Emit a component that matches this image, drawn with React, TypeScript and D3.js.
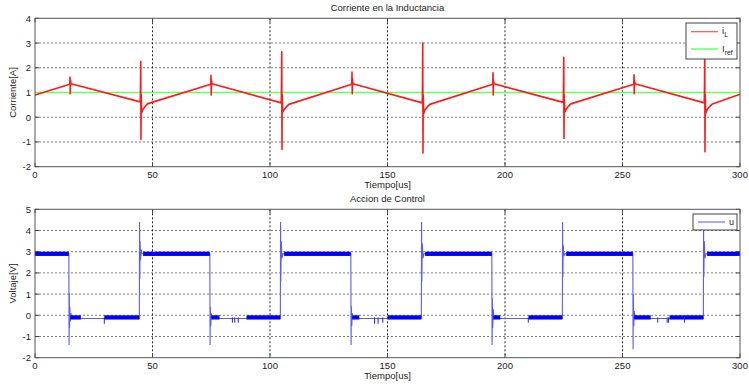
import React from "react";
import * as d3 from "d3";

// ---------- data ----------
const xTicks = [0, 50, 100, 150, 200, 250, 300];
const yTicksTop = [-2, -1, 0, 1, 2, 3, 4];
const yTicksBottom = [-2, -1, 0, 1, 2, 3, 4, 5];

const titleTop = "Corriente en la Inductancia";
const titleBottom = "Accion de Control";
const xLabel = "Tiempo[us]";
const yLabelTop = "Corriente[A]";
const yLabelBottom = "Voltaje[V]";

// inductor current i_L [t(us), A]
const iL: [number, number][] = [
  [0, 0.9],
  [14.8, 1.33], [14.9, 1.62], [15.0, 0.95], [15.1, 1.5], [15.3, 1.35],
  [44.8, 0.62], [44.9, 1.3], [45.0, 2.25], [45.1, -0.9], [45.2, 0.9], [45.4, 0.18], [46, 0.32], [47, 0.45], [48, 0.55],
  [74.8, 1.33], [74.9, 1.7], [75.0, 0.9], [75.1, 1.5], [75.3, 1.35],
  [104.8, 0.58], [104.9, 1.3], [105.0, 2.65], [105.1, -1.3], [105.2, 0.9], [105.4, 0.2], [106, 0.3], [107, 0.42], [108, 0.52],
  [134.8, 1.33], [134.9, 1.83], [135.0, 0.95], [135.1, 1.55], [135.3, 1.35],
  [164.8, 0.58], [164.9, 1.3], [165.0, 3.0], [165.1, -1.45], [165.2, 0.9], [165.4, 0.15], [166, 0.3], [167, 0.42], [168, 0.52],
  [194.8, 1.33], [194.9, 1.8], [195.0, 0.9], [195.1, 1.5], [195.3, 1.35],
  [224.8, 0.6], [224.9, 1.3], [225.0, 2.42], [225.1, -0.86], [225.2, 0.9], [225.4, 0.2], [226, 0.32], [227, 0.44], [228, 0.54],
  [254.8, 1.33], [254.9, 1.72], [255.0, 0.95], [255.1, 1.5], [255.3, 1.35],
  [284.8, 0.58], [284.9, 1.3], [285.0, 2.8], [285.1, -1.4], [285.2, 0.9], [285.4, 0.15], [286, 0.3], [287, 0.42], [288, 0.52],
  [300, 0.93],
];

// reference current I_ref
const iRef: [number, number][] = [
  [0, 1],
  [300, 1],
];

// control action u [t(us), V]
const uLine: [number, number][] = [
  [0, 2.9], [14.4, 2.9], [14.5, -1.4], [14.6, 1.05], [14.7, -0.6], [14.8, 0.4], [15, -0.3], [15.3, 0.1], [15.6, -0.15],
  [44.4, -0.15], [44.5, 4.4], [44.6, 1.7], [44.7, 3.5], [44.9, 2.6], [45.2, 3.1], [45.5, 2.9],
  [74.4, 2.9], [74.5, -1.4], [74.6, 0.4], [74.8, -0.5], [75, 0.1], [75.3, -0.15],
  [104.4, -0.15], [104.5, 4.4], [104.6, 1.6], [104.8, 3.5], [105.1, 2.7], [105.5, 2.9],
  [134.4, 2.9], [134.5, -1.4], [134.6, 0.45], [134.8, -0.5], [135, 0.1], [135.3, -0.15],
  [164.4, -0.15], [164.5, 4.4], [164.6, 1.6], [164.8, 3.4], [165.1, 2.7], [165.5, 2.9],
  [194.4, 2.9], [194.5, -1.4], [194.6, 0.8], [194.8, -0.6], [195, 0.3], [195.3, -0.15],
  [224.4, -0.15], [224.5, 4.4], [224.6, 1.8], [224.8, 3.3], [225.1, 2.8], [225.5, 2.9],
  [254.4, 2.9], [254.5, -1.6], [254.6, 1.0], [254.8, -0.5], [255, 0.2], [255.3, -0.15],
  [284.4, -0.15], [284.5, 4.1], [284.6, 1.8], [284.8, 3.5], [285.1, 2.7], [285.5, 2.9],
  [300, 2.9],
];

// chattering bands of u: [t0, t1, low, high]
const uBands: [number, number, number, number][] = [
  [0, 14.4, 2.8, 3.0], [46, 74.4, 2.8, 3.0], [106, 134.4, 2.8, 3.0],
  [166, 194.4, 2.8, 3.0], [226, 254.4, 2.8, 3.0], [286, 300, 2.8, 3.0],
  [15, 19.5, -0.2, 0.0], [29.5, 44.4, -0.2, 0.0],
  [75, 78.5, -0.2, 0.0], [90, 104.4, -0.2, 0.0],
  [135, 138, -0.2, 0.0], [150, 164.4, -0.2, 0.0],
  [195, 198, -0.2, 0.0], [210, 224.4, -0.2, 0.0],
  [255, 262, -0.2, 0.0], [270, 284.4, -0.2, 0.0],
];

// short negative dips of u in the low state: [t, low]
const uDips: [number, number][] = [
  [29.5, -0.4], [84, -0.35], [85, -0.35], [86.5, -0.35],
  [144.5, -0.4], [146, -0.4], [148, -0.35], [209.9, -0.35],
  [265, -0.35], [269, -0.35], [269.6, -0.35], [276.4, -0.35],
];

// ---------- layout ----------
const W = 749;
const H = 384;
const left = 35;
const right = 740;
const top1 = 18.3;
const bot1 = 166.7;
const top2 = 209.3;
const bot2 = 357.7;
const FONT = "Liberation Sans, Arial, sans-serif";

const x = d3.scaleLinear().domain([0, 300]).range([left, right]);
const y1 = d3.scaleLinear().domain([-2, 4]).range([bot1, top1]);
const y2 = d3.scaleLinear().domain([-2, 5]).range([bot2, top2]);

function Axes({
  y,
  yTicks,
  top,
  bot,
  title,
  ylabel,
}: {
  y: d3.ScaleLinear<number, number>;
  yTicks: number[];
  top: number;
  bot: number;
  title: string;
  ylabel: string;
}) {
  const midY = (top + bot) / 2;
  return (
    <g>
      <rect x={left} y={top} width={right - left} height={bot - top} fill="#fff" />
      {/* grid */}
      {yTicks
        .filter((t) => y(t) > top + 1 && y(t) < bot - 1)
        .map((t) => (
          <line key={"hy" + t} x1={left} x2={right} y1={y(t)} y2={y(t)} stroke="#7a7a7a" strokeDasharray="2,2" strokeWidth={1} />
        ))}
      {xTicks
        .filter((t) => x(t) > left + 1 && x(t) < right - 1)
        .map((t) => (
          <line key={"vx" + t} x1={x(t)} x2={x(t)} y1={top} y2={bot} stroke="#222" strokeDasharray="2,2" strokeWidth={1} />
        ))}
      {/* tick labels */}
      {yTicks.map((t) => (
        <text key={"yl" + t} x={left - 4} y={y(t) + 3.5} fontSize={9.5} textAnchor="end" fontFamily={FONT} fill="#222">
          {t}
        </text>
      ))}
      {xTicks.map((t) => (
        <text key={"xl" + t} x={x(t)} y={bot + 11} fontSize={9.5} textAnchor="middle" fontFamily={FONT} fill="#222">
          {t}
        </text>
      ))}
      {/* ticks */}
      {yTicks.map((t) => (
        <g key={"yt" + t}>
          <line x1={left} x2={left + 4} y1={y(t)} y2={y(t)} stroke="#444" />
          <line x1={right - 4} x2={right} y1={y(t)} y2={y(t)} stroke="#444" />
        </g>
      ))}
      {xTicks.map((t) => (
        <g key={"xt" + t}>
          <line x1={x(t)} x2={x(t)} y1={bot} y2={bot - 4} stroke="#444" />
          <line x1={x(t)} x2={x(t)} y1={top} y2={top + 4} stroke="#444" />
        </g>
      ))}
      <text x={(left + right) / 2} y={top - 7} fontSize={9.5} textAnchor="middle" fontFamily={FONT} fill="#222">
        {title}
      </text>
      <text x={(left + right) / 2} y={bot + 21} fontSize={9.5} textAnchor="middle" fontFamily={FONT} fill="#222">
        {xLabel}
      </text>
      <text
        x={0}
        y={0}
        transform={`translate(16,${midY}) rotate(-90)`}
        fontSize={9.5}
        textAnchor="middle"
        fontFamily={FONT}
        fill="#222"
      >
        {ylabel}
      </text>
    </g>
  );
}

function Frame({ top, bot }: { top: number; bot: number }) {
  return (
    <rect x={left} y={top} width={right - left} height={bot - top} fill="none" stroke="#555" strokeWidth={1} />
  );
}

export default function App() {
  const line1 = d3
    .line<[number, number]>()
    .x((d) => x(d[0]))
    .y((d) => y1(d[1]));
  const line2 = d3
    .line<[number, number]>()
    .x((d) => x(d[0]))
    .y((d) => y2(d[1]));

  return (
    <svg width={W} height={H} style={{ position: "absolute", left: 0, top: 0, background: "#fff" }}>
      <rect x={0} y={0} width={W} height={H} fill="#fff" />
      <Axes y={y1} yTicks={yTicksTop} top={top1} bot={bot1} title={titleTop} ylabel={yLabelTop} />
      <Axes y={y2} yTicks={yTicksBottom} top={top2} bot={bot2} title={titleBottom} ylabel={yLabelBottom} />

      {/* top plot */}
      <g>
        <path d={line1(iRef) || ""} fill="none" stroke="#66ff66" strokeWidth={1.5} />
        <path d={line1(iL) || ""} fill="none" stroke="#ff1a1a" strokeWidth={1.6} strokeLinejoin="round" />
      </g>

      {/* bottom plot */}
      <g>
        <path d={line2(uLine) || ""} fill="none" stroke="#5a5aff" strokeWidth={1.1} />
        {uBands.map((b, i) => (
          <rect
            key={"b" + i}
            x={x(b[0])}
            y={y2(b[3])}
            width={x(b[1]) - x(b[0])}
            height={y2(b[2]) - y2(b[3])}
            fill="#0000ff"
          />
        ))}
        {uDips.map((d, i) => (
          <line key={"d" + i} x1={x(d[0])} x2={x(d[0])} y1={y2(-0.1)} y2={y2(d[1])} stroke="#2020ff" strokeWidth={1} />
        ))}
      </g>

      <Frame top={top1} bot={bot1} />
      <Frame top={top2} bot={bot2} />

      {/* legend top */}
      <g>
        <rect x={686} y={23} width={51} height={36} fill="#fff" stroke="#444" strokeWidth={1} />
        <line x1={691} x2={718} y1={31.7} y2={31.7} stroke="#ff5050" strokeWidth={1.2} />
        <text x={722} y={34} fontSize={9.5} fontFamily={FONT} fill="#222">
          i<tspan fontSize={7} dy={3}>L</tspan>
        </text>
        <line x1={691} x2={718} y1={49} y2={49} stroke="#66ff66" strokeWidth={1.5} />
        <text x={722} y={51.5} fontSize={9.5} fontFamily={FONT} fill="#222">
          I<tspan fontSize={7} dy={3}>ref</tspan>
        </text>
      </g>
      {/* legend bottom */}
      <g>
        <rect x={693} y={214} width={44} height={16} fill="#fff" stroke="#444" strokeWidth={1} />
        <line x1={698} x2={725} y1={222} y2={222} stroke="#7070ff" strokeWidth={1.2} />
        <text x={729} y={225} fontSize={9} fontFamily={FONT} fill="#222">
          u
        </text>
      </g>
    </svg>
  );
}
